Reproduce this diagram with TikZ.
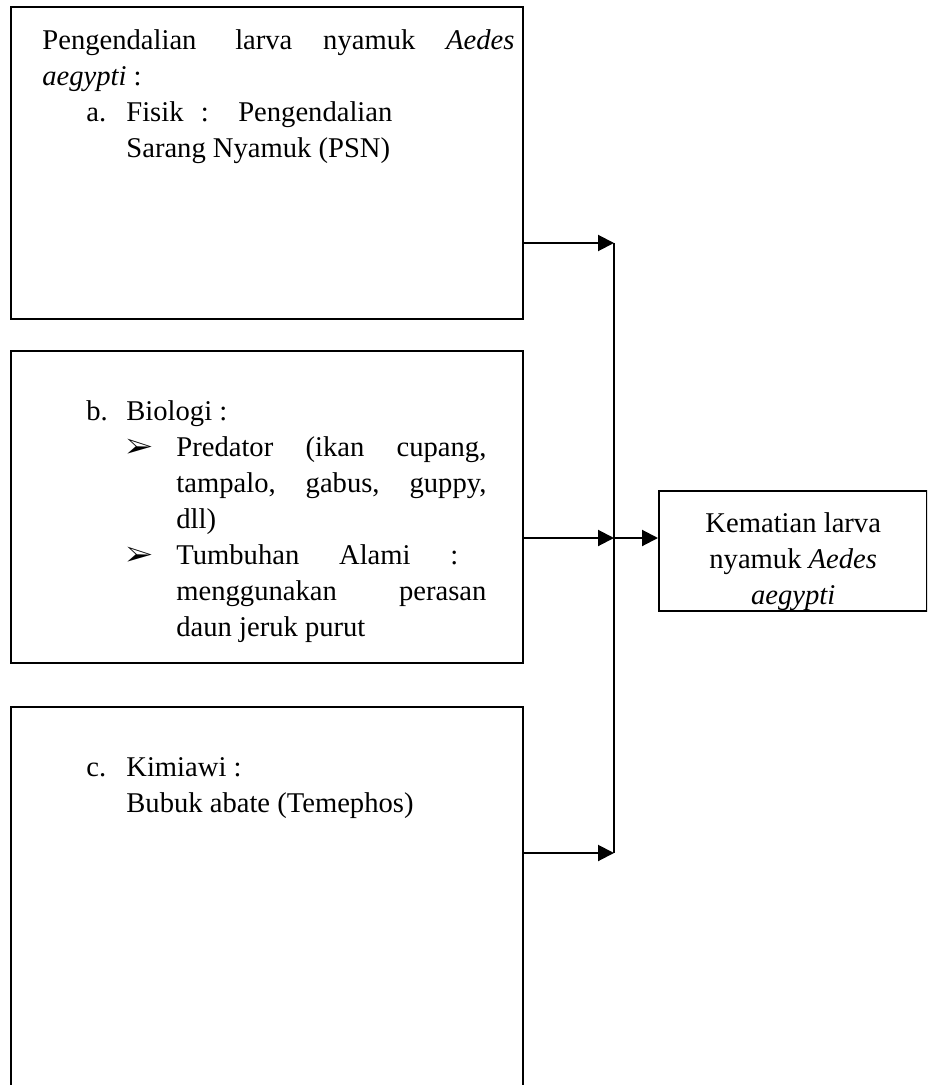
\documentclass[tikz,border=0pt]{standalone}
\usepackage{fontspec}
\setmainfont{Liberation Serif}
\usepackage{pifont}
\usetikzlibrary{arrows.meta, positioning}

\newcommand{\lbl}[1]{\hspace*{22pt}\makebox[20pt][l]{#1}}
\newcommand{\lblgap}{\hspace*{42pt}}
\newcommand{\pointer}{\hspace*{42pt}\makebox[25pt][l]{\ding{226}}}
\newcommand{\pointgap}{\hspace*{67pt}}
% justified line of a given width
\newcommand{\just}[2]{\makebox[#1][s]{#2}}

\tikzset{
  panel/.style = {draw, line width=1.2pt, anchor=north west, inner sep=0pt},
  panel text/.style = {anchor=base west, inner sep=0pt},
  link/.style = {line width=1pt},
  feed/.style = {link, -{Triangle[length=8pt, width=8pt]}}
}

\begin{document}
\begin{tikzpicture}[x=0.5pt, y=-0.5pt, font=\fontsize{14.3}{18}\selectfont]
\path[use as bounding box, clip] (0,0) rectangle (927,1085);

% the three kinds of control
\node[panel, minimum width=256pt, minimum height=156pt] (fisik) at (10,6) {};
\node[panel, minimum width=256pt, minimum height=156pt] (biologi) at (10,350) {};
\node[panel, minimum width=256pt, minimum height=210pt] (kimiawi) at (10,706) {};

\node[panel text] (fisik-txt) at ([xshift=16pt, yshift=-22pt]fisik.north west) {%
\begin{tabular}[t]{@{}l@{}}
\just{236pt}{Pengendalian\hspace{4pt} larva nyamuk \textit{Aedes}}\\
\textit{aegypti} :\\
\lbl{a.}\just{133pt}{Fisik : Pengendalian}\\
\lblgap Sarang Nyamuk (PSN)
\end{tabular}};

\node[panel text] (biologi-txt) at ([xshift=16pt, yshift=-35pt]biologi.north west) {%
\begin{tabular}[t]{@{}l@{}}
\lbl{b.}Biologi :\\
\pointer\just{155pt}{Predator (ikan cupang,}\\
\pointgap\just{155pt}{tampalo, gabus, guppy,}\\
\pointgap dll)\\
\pointer\just{141pt}{Tumbuhan Alami :}\\
\pointgap\just{155pt}{menggunakan perasan}\\
\pointgap daun jeruk purut
\end{tabular}};

\node[panel text] (kimiawi-txt) at ([xshift=16pt, yshift=-35pt]kimiawi.north west) {%
\begin{tabular}[t]{@{}l@{}}
\lbl{c.}Kimiawi :\\
\lblgap Bubuk abate (Temephos)
\end{tabular}};

% result
\node[panel, minimum width=134pt, minimum height=60pt] (kematian) at (658,490) {};
\node[align=center, inner sep=0pt] (kematian-txt) at ([yshift=-5pt]kematian.center)
  {Kematian larva\\ nyamuk \textit{Aedes}\\ \textit{aegypti}};

% bus line and arrows
\coordinate (bus-a) at (614,243);
\coordinate (bus-b) at (614,538);
\coordinate (bus-c) at (614,853);
\draw[link] (bus-a) -- (bus-c);
\draw[feed] (fisik.east |- bus-a) -- (bus-a);
\draw[feed] (biologi.east |- bus-b) -- (bus-b);
\draw[feed] (kimiawi.east |- bus-c) -- (bus-c);
\draw[feed] (bus-b) -- (kematian.west |- bus-b);
\end{tikzpicture}
\end{document}
